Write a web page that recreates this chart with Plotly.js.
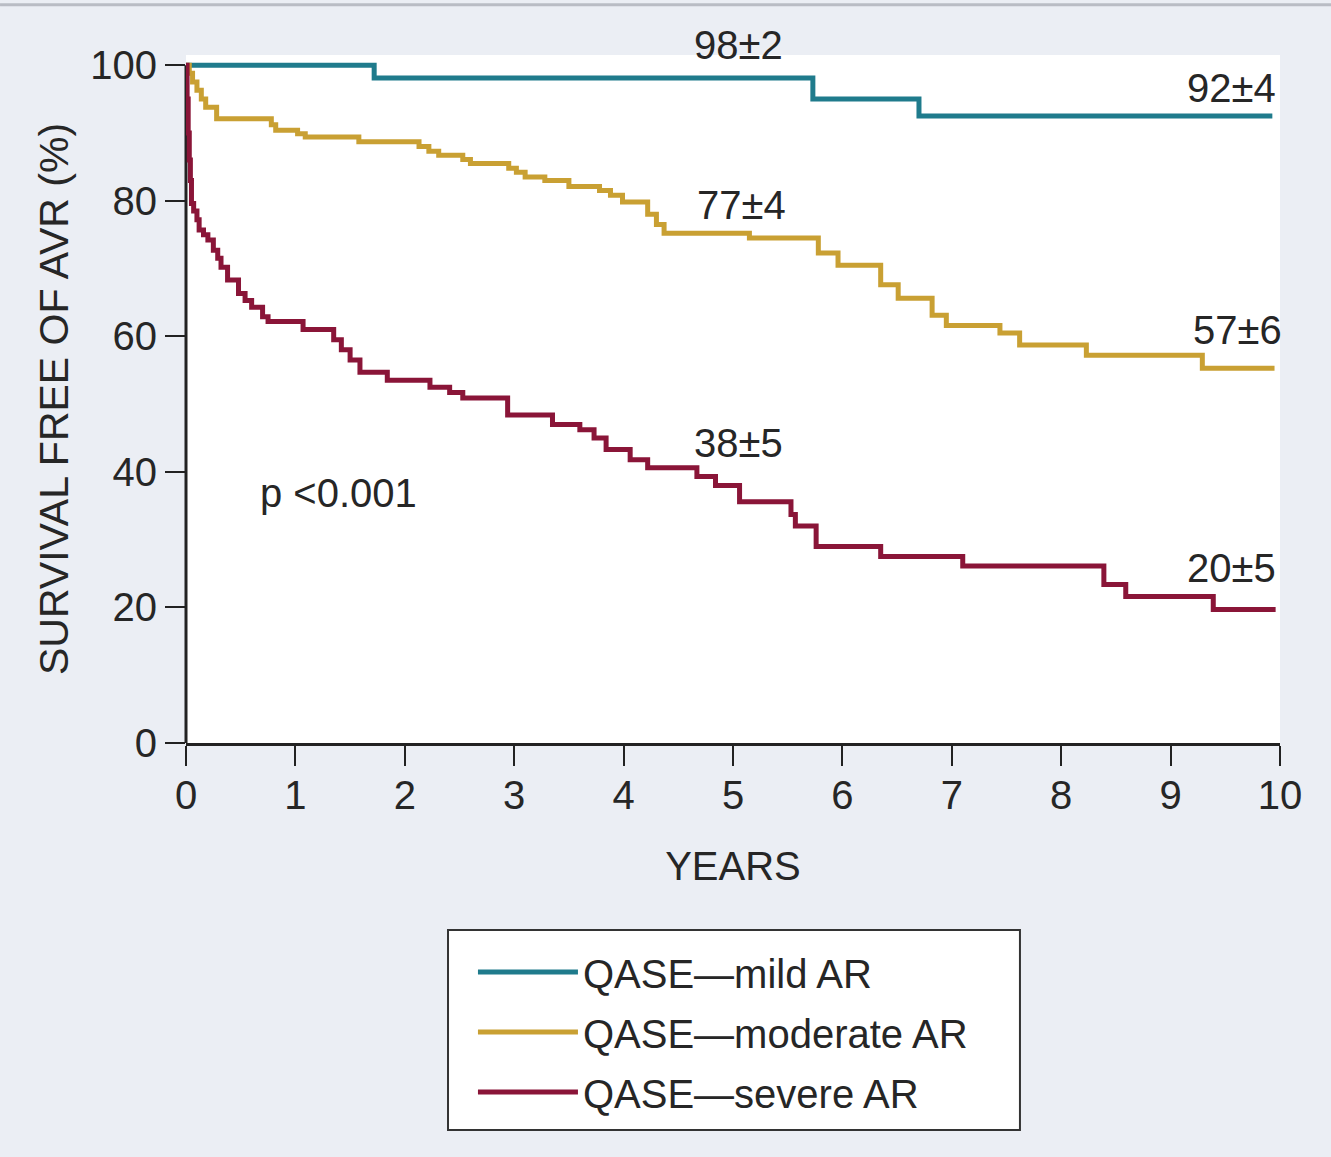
<!DOCTYPE html>
<html>
<head>
<meta charset="utf-8">
<script src="https://cdn.plot.ly/plotly-3.0.1.min.js"></script>
<style>
  html, body { margin: 0; padding: 0; background: #ebeef4; }
  #chart { width: 1331px; height: 1157px; }
</style>
</head>
<body>
<div id="chart"></div>
<script>
// ---- Data ----
const seriesNames = ["QASE\u2014mild AR", "QASE\u2014moderate AR", "QASE\u2014severe AR"];
const seriesColors = ["#1f7b8c", "#c9a033", "#8a1538"];

const mildYears = [0, 1.72, 5.73, 6.70, 9.93];
const mildSurv  = [100, 98.1, 95.0, 92.5, 92.5];

const moderateYears = [0, 0.03, 0.06, 0.10, 0.14, 0.18, 0.28, 0.78, 0.82, 1.02, 1.09, 1.58, 2.13, 2.22, 2.31, 2.53, 2.60, 2.95, 3.02, 3.10, 3.28, 3.50, 3.78, 3.88, 3.99, 4.22, 4.30, 4.37, 5.15, 5.78, 5.96, 6.35, 6.51, 6.82, 6.95, 7.44, 7.62, 8.23, 9.29, 9.95];
const moderateSurv  = [100, 98.8, 97.5, 96.3, 95.0, 93.8, 92.1, 91.2, 90.4, 89.9, 89.4, 88.7, 88.0, 87.3, 86.7, 86.1, 85.5, 84.8, 84.2, 83.5, 83.0, 82.1, 81.5, 80.8, 79.8, 78.0, 76.5, 75.2, 74.5, 72.3, 70.5, 67.6, 65.6, 63.1, 61.6, 60.5, 58.7, 57.2, 55.3, 55.3];

const severeYears = [0, 0.01, 0.02, 0.03, 0.04, 0.05, 0.07, 0.10, 0.12, 0.16, 0.20, 0.25, 0.29, 0.32, 0.38, 0.48, 0.54, 0.60, 0.70, 0.75, 1.07, 1.35, 1.42, 1.50, 1.59, 1.84, 2.23, 2.41, 2.53, 2.94, 3.35, 3.60, 3.73, 3.84, 4.06, 4.22, 4.67, 4.84, 5.06, 5.53, 5.57, 5.76, 6.35, 7.10, 8.39, 8.59, 9.39, 9.96];
const severeSurv  = [100, 95, 90, 86, 83, 79.6, 78.5, 77.2, 75.7, 75.0, 74.2, 72.7, 71.5, 70.2, 68.3, 66.3, 65.3, 64.3, 62.9, 62.2, 61.0, 59.5, 58.0, 56.5, 54.7, 53.5, 52.5, 51.7, 50.9, 48.4, 47.0, 46.2, 45.0, 43.3, 41.8, 40.6, 39.3, 38.0, 35.6, 33.7, 32.0, 29.0, 27.5, 26.1, 23.4, 21.6, 19.7, 19.7];

const xTicks = [0, 1, 2, 3, 4, 5, 6, 7, 8, 9, 10];
const yTicks = [0, 20, 40, 60, 80, 100];

const labelTexts = ["98\u00b12", "92\u00b14", "77\u00b14", "57\u00b16", "38\u00b15", "20\u00b15", "p <0.001"];
const labelYears = [5.05, 9.56, 5.08, 9.61, 5.05, 9.56, 0.66];
const labelSurv  = [103.0, 96.6, 79.4, 60.9, 44.2, 25.8, 36.9];

// ---- Chart ----
const FONT = "Liberation Sans, Arial, Helvetica, sans-serif";
const TXT = "#262626";
const Y_MAX = 101.5;

const xs = [mildYears, moderateYears, severeYears];
const ys = [mildSurv, moderateSurv, severeSurv];

const traces = xs.map((x, i) => ({
  type: "scatter",
  mode: "lines",
  x: x,
  y: ys[i],
  name: seriesNames[i],
  legendgroup: "g" + i,
  line: { shape: "hv", color: seriesColors[i], width: 5 },
  cliponaxis: false,
  hoverinfo: "skip"
}));

const annotations = labelTexts.map((t, i) => ({
  x: labelYears[i],
  y: labelSurv[i] / Y_MAX,
  xref: "x",
  yref: "paper",
  text: t,
  showarrow: false,
  xanchor: i === 6 ? "left" : "center",
  yanchor: "middle",
  font: { family: FONT, size: 40, color: TXT }
}));

const layout = {
  width: 1331,
  height: 1157,
  paper_bgcolor: "#ebeef4",
  plot_bgcolor: "#ffffff",
  margin: { l: 186, r: 51, t: 55, b: 414, pad: 0 },
  font: { family: FONT, size: 40, color: TXT },
  showlegend: true,
  legend: {
    x: 0.2623, xanchor: "left",
    y: -0.2855, yanchor: "top",
    bgcolor: "rgba(0,0,0,0)",
    borderwidth: 0,
    font: { family: FONT, size: 40, color: TXT },
    itemwidth: 100,
    traceorder: "grouped",
    tracegroupgap: 5
  },
  xaxis: {
    range: [0, 10],
    tickmode: "array",
    tickvals: xTicks,
    ticktext: xTicks.map(String),
    ticks: "outside",
    ticklen: 20,
    tickwidth: 2,
    tickcolor: "#222",
    ticklabelstandoff: -5,
    showline: true,
    linecolor: "#222",
    linewidth: 3,
    showgrid: false,
    zeroline: false,
    tickfont: { family: FONT, size: 40, color: TXT },
    title: { text: "YEARS", font: { family: FONT, size: 40, color: TXT }, standoff: 36 }
  },
  yaxis: {
    range: [0, Y_MAX],
    tickmode: "array",
    tickvals: yTicks,
    ticktext: yTicks.map(String),
    ticks: "outside",
    ticklen: 20,
    tickwidth: 2,
    tickcolor: "#222",
    showline: false,
    showgrid: false,
    zeroline: false,
    tickfont: { family: FONT, size: 40, color: TXT },
    title: { text: "SURVIVAL FREE OF AVR (%)", font: { family: FONT, size: 41, color: TXT }, standoff: 8 }
  },
  shapes: [
    { type: "line", xref: "paper", yref: "y", x0: 0, x1: 0, y0: 0, y1: 100,
      line: { color: "#222", width: 3 }, layer: "below" },
    { type: "line", xref: "paper", yref: "paper", x0: -0.17, x1: 1.05, y0: 1.073, y1: 1.073,
      line: { color: "#b9bcc4", width: 3 } },
    { type: "rect", xref: "paper", yref: "paper", x0: 0.2395, x1: 0.7623, y0: -0.2718, y1: -0.5625,
      fillcolor: "#ffffff", line: { color: "#333333", width: 2 }, layer: "below" }
  ],
  annotations: annotations
};

Plotly.newPlot("chart", traces, layout, { displayModeBar: false, staticPlot: true });
</script>
</body>
</html>
